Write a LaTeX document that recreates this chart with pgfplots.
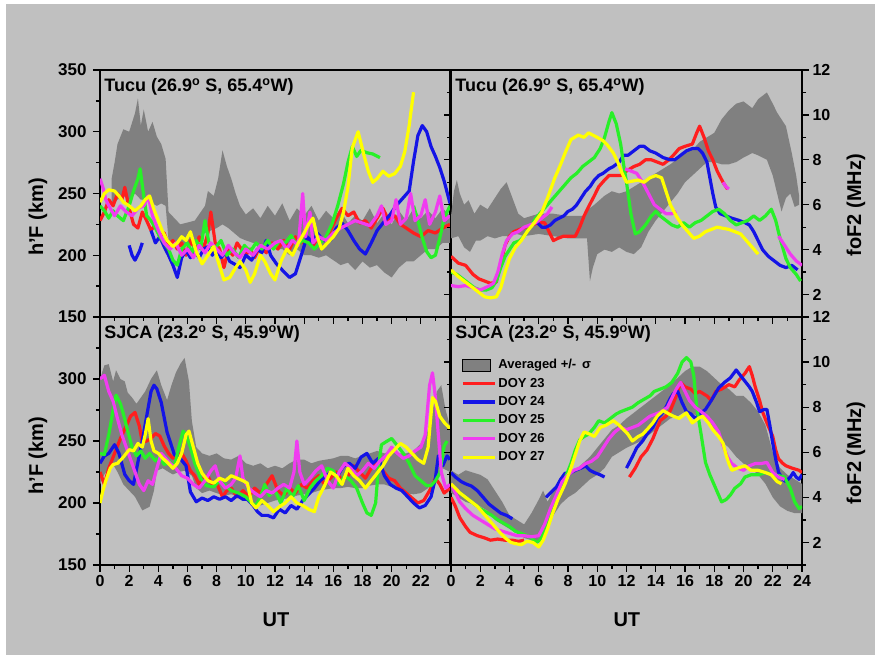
\documentclass[border=0pt]{standalone}
\usepackage{fontspec}
\setmainfont{Liberation Sans}
\usepackage{pgfplots}
\pgfplotsset{compat=1.18}

\definecolor{bg}{RGB}{192,192,192}
\definecolor{band}{RGB}{128,128,128}
\definecolor{c23}{RGB}{255,30,30}
\definecolor{c24}{RGB}{20,20,230}
\definecolor{c25}{RGB}{40,240,40}
\definecolor{c26}{RGB}{240,60,240}
\definecolor{c27}{RGB}{255,255,0}

\pgfplotsset{
  panel/.style={
    scale only axis, xmin=0, xmax=24, enlargelimits=false,
    axis line style={line width=1.6pt},
    tick align=outside, major tick length=7pt, minor tick length=4pt,
    every tick/.style={black, line width=1.3pt},
    xtick pos=left,
    tick label style={font=\fontsize{16}{16}\selectfont\bfseries},
    /pgf/number format/assume math mode=true,
    label style={font=\fontsize{20}{20}\selectfont\bfseries},
    unbounded coords=jump,
  },
  hfpanel/.style={panel, width=350pt, ymin=150, ymax=350,
    xtick={0,2,...,22}, minor xtick={1,3,...,23}, ytick pos=left,
    yticklabel style={font=\fontsize{17}{17}\selectfont\bfseries, xshift=-3pt}},
  fopanel/.style={panel, width=351pt, ymin=1, ymax=12,
    xtick={0,2,...,24}, minor xtick={1,3,...,23},
    ytick={2,4,...,12}, minor ytick={1,3,...,11},
    ytick pos=both, yticklabel pos=right},
  cur/.style={line width=3.2pt, line join=round, forget plot},
  bandst/.style={fill=band, draw=none, forget plot},
  lgline/.style={legend image code/.code={\draw[#1, line width=3.2pt] (0pt,0pt) -- (32pt,0pt);}},
  lgbox/.style={legend image code/.code={\draw[fill=band,draw=black,line width=1.2pt] (0pt,-6pt) rectangle (28pt,6pt);}},
}
\newcommand{\ttl}[1]{\node[anchor=north west, inner sep=0pt, font=\fontsize{18}{18}\selectfont\bfseries] at (rel axis cs:0.012,0.965) {#1};}

\begin{document}
\begin{tikzpicture}
\fill[white] (0pt,0pt) rectangle (875pt,655pt);
\fill[bg] (6pt,0pt) rectangle (875pt,651pt);

% ---------------- Top left: h'F Tucu
\begin{axis}[hfpanel, height=247pt, at={(100pt,338pt)}, anchor=south west,
  ytick={150,200,...,350}, minor ytick={175,225,...,325}, xticklabels={},
  ylabel={h'F (km)}, ylabel style={at={(axis description cs:-0.177,0.405)}, anchor=center}]
\addplot[bandst] coordinates {(0.8,262)(1.0,275)(1.2,290)(1.6,302)(2.0,300)(2.4,315)(2.6,327)(2.8,305)(3.0,318)(3.3,300)(3.6,308)(3.9,296)(4.2,290)(4.5,278)(4.7,235)(5.5,225)(6.5,228)(7.2,240)(7.4,252)(7.8,248)(8.1,262)(8.4,285)(8.7,272)(9.0,262)(9.3,250)(9.6,240)(10.0,233)(10.5,238)(11.0,230)(11.5,240)(12.0,232)(12.5,242)(13.0,228)(13.5,238)(14.0,232)(14.5,240)(15.0,228)(15.5,236)(16.0,230)(16.5,236)(17.0,226)(17.5,232)(18.0,228)(18.5,238)(19.0,226)(19.5,234)(20.0,225)(20.5,236)(21.0,228)(21.5,238)(22.0,230)(22.5,236)(23.0,230)(23.5,238)(24.0,232)
(24.0,210)(23.5,210)(23.0,205)(22.5,205)(22.0,200)(21.5,195)(21.0,195)(20.5,190)(20.0,182)(19.5,186)(19.0,192)(18.5,190)(18.0,195)(17.5,188)(17.0,194)(16.5,192)(16.0,196)(15.5,200)(15.0,198)(14.5,200)(14.0,200)(13.5,205)(13.0,200)(12.5,205)(12.0,205)(11.5,210)(11.0,208)(10.5,210)(10.0,212)(9.6,214)(9.2,218)(8.8,222)(8.4,225)(8.0,222)(7.6,220)(7.2,218)(6.5,210)(5.5,208)(4.7,212)(4.5,240)(4.2,242)(3.9,240)(3.6,242)(3.3,245)(2.8,245)(2.4,250)(2.0,245)(1.6,248)(1.2,245)(0.8,240)};
\addplot[cur, c23] coordinates {(0,228)(0.3,235)(0.6,245)(0.9,240)(1.2,250)(1.5,245)(1.7,255)(2.0,238)(2.3,225)(2.6,222)(2.9,235)(3.2,228)(3.5,220)(3.8,225)(4.1,215)(4.4,218)(4.7,208)(5.0,212)(5.3,205)(5.6,210)(5.9,200)(6.2,212)(6.5,205)(6.8,215)(7.1,205)(7.4,218)(7.6,235)(7.9,210)(8.2,205)(8.5,190)(8.8,205)(9.1,200)(9.4,210)(9.7,205)(10.0,200)(10.3,205)(10.6,198)(11.0,208)(11.4,202)(11.8,210)(12.2,205)(12.6,212)(13.0,205)(13.4,215)(13.8,210)(14.2,212)(14.6,208)(15.0,215)(15.4,212)(15.8,220)(16.2,230)(16.6,238)(17.0,232)(17.4,235)(17.8,226)(18.2,228)(18.6,222)(19.0,230)(19.4,238)(19.8,228)(20.2,232)(20.6,225)(21.0,222)(21.5,218)(22.0,215)(22.5,220)(23.0,218)(23.5,222)(24.0,225)};
\addplot[cur, c24] coordinates {(2.0,208)(2.2,200)(2.4,196)(2.7,203)(2.9,210)(3.2,nan)(3.5,220)(3.8,210)(4.1,215)(4.4,207)(4.7,200)(5.0,192)(5.3,182)(5.6,198)(5.9,204)(6.2,198)(6.5,203)(6.8,198)(7.1,205)(7.4,207)(7.7,200)(8.0,205)(8.3,198)(8.6,202)(8.9,195)(9.2,193)(9.6,190)(10.0,200)(10.4,196)(10.8,205)(11.1,202)(11.4,212)(11.7,200)(12.1,193)(12.5,188)(13.0,182)(13.4,185)(13.8,200)(14.2,215)(14.6,210)(14.9,218)(15.3,212)(15.8,212)(16.2,222)(16.6,226)(17.0,220)(17.4,212)(17.8,205)(18.2,201)(18.6,210)(19.0,220)(19.4,226)(19.9,233)(20.3,240)(20.6,244)(20.9,248)(21.2,252)(21.5,276)(21.8,297)(22.1,305)(22.4,300)(22.7,288)(23.0,280)(23.3,271)(23.6,260)(24.0,242)};
\addplot[cur, c25] coordinates {(0,240)(0.3,236)(0.6,230)(0.9,236)(1.2,232)(1.6,228)(2.0,240)(2.3,252)(2.6,262)(2.75,270)(3.0,248)(3.2,232)(3.5,228)(3.8,222)(4.1,215)(4.4,210)(4.7,205)(5.0,196)(5.3,192)(5.6,205)(6.0,210)(6.3,202)(6.6,212)(6.9,205)(7.2,228)(7.5,208)(7.9,206)(8.3,212)(8.7,200)(9.1,205)(9.5,198)(9.9,208)(10.3,203)(10.7,210)(11.1,205)(11.5,212)(11.9,205)(12.3,212)(12.7,210)(13.1,216)(13.5,208)(13.9,212)(14.3,210)(14.7,205)(15.1,210)(15.5,215)(15.9,225)(16.3,240)(16.7,258)(17.0,275)(17.3,288)(17.6,280)(17.9,285)(18.3,283)(18.7,282)(19.2,279)(19.4,nan)(21.4,nan)(21.5,240)(21.8,228)(22.1,214)(22.4,203)(22.7,198)(23.0,200)(23.3,214)(23.6,230)(24.0,240)};
\addplot[cur, c26] coordinates {(0,262)(0.2,255)(0.4,245)(0.7,238)(1.0,232)(1.4,240)(1.8,235)(2.2,232)(2.6,238)(3.0,240)(3.3,248)(3.6,232)(4.0,220)(4.4,210)(4.8,205)(5.2,210)(5.6,200)(6.0,205)(6.4,198)(6.8,208)(7.2,202)(7.6,210)(8.0,205)(8.4,200)(8.8,208)(9.2,202)(9.6,198)(10.0,205)(10.5,200)(11.0,208)(11.5,205)(12.0,210)(12.4,212)(12.8,205)(13.2,212)(13.6,208)(13.9,250)(14.1,215)(14.4,235)(14.6,210)(15.0,215)(15.5,212)(16.0,218)(16.5,222)(17.0,225)(17.5,228)(18.0,226)(18.5,224)(19.0,232)(19.3,240)(19.6,225)(20.0,228)(20.3,245)(20.6,225)(21.0,230)(21.3,250)(21.6,228)(22.0,232)(22.3,245)(22.6,225)(23.0,235)(23.3,248)(23.6,228)(24.0,232)};
\addplot[cur, c27] coordinates {(0,243)(0.3,250)(0.6,253)(1.0,252)(1.3,248)(1.6,243)(2.0,240)(2.4,236)(2.8,240)(3.1,245)(3.4,248)(3.7,237)(4.0,228)(4.3,219)(4.6,212)(5.0,207)(5.3,210)(5.6,215)(5.9,212)(6.2,219)(6.6,203)(7.0,193)(7.4,200)(7.8,207)(8.1,195)(8.5,180)(8.9,182)(9.3,190)(9.6,195)(10.0,188)(10.3,178)(10.6,185)(11.0,200)(11.3,195)(11.7,185)(12.0,180)(12.4,195)(12.8,205)(13.2,200)(13.6,210)(14.0,218)(14.3,225)(14.6,230)(14.9,215)(15.2,205)(15.6,210)(16.0,215)(16.4,222)(16.7,235)(17.0,255)(17.3,287)(17.7,300)(18.1,281)(18.4,268)(18.7,259)(19.0,262)(19.4,268)(19.8,264)(20.2,266)(20.6,272)(20.9,284)(21.2,305)(21.5,332)};
\ttl{Tucu (26.9\textsuperscript{o} S, 65.4\textsuperscript{o}W)}
\end{axis}

% ---------------- Top right: foF2 Tucu
\begin{axis}[fopanel, height=247pt, at={(451pt,338pt)}, anchor=south west, xticklabels={},
  ylabel={foF2 (MHz)}, ylabel style={at={(axis description cs:1.154,0.453)}, anchor=center}]
\addplot[bandst] coordinates {(0,5.5)(0.2,6.6)(0.4,7.1)(0.6,6.5)(0.9,6.0)(1.2,6.2)(1.6,5.6)(2.0,6.0)(2.5,5.8)(3.0,6.3)(3.4,6.7)(3.8,7.0)(4.2,6.3)(4.6,5.6)(5.0,5.4)(5.5,5.5)(6.0,5.6)(7.0,5.6)(8.0,5.5)(9.0,5.5)(9.4,5.8)(9.8,6.0)(10.5,6.4)(11.0,6.6)(11.5,6.5)(12.0,6.6)(13.0,7.0)(14.0,7.4)(15.0,7.8)(16.0,8.3)(16.6,8.5)(17.0,8.8)(17.5,9.0)(18.0,9.2)(18.5,9.8)(19.0,10.2)(19.5,10.5)(20.0,10.6)(20.6,10.3)(21.0,10.7)(21.6,11.0)(22.0,10.5)(22.3,10.1)(22.6,9.8)(22.9,9.5)(23.3,8.3)(23.6,7.3)(23.8,6.4)
(23.8,6.0)(23.5,5.9)(23.2,6.5)(22.9,6.3)(22.6,5.7)(22.3,6.5)(22.0,7.3)(21.6,8.0)(21.0,8.2)(20.6,8.3)(20.0,8.1)(19.5,7.9)(19.0,7.8)(18.5,7.8)(18.0,7.9)(17.5,7.9)(17.0,7.6)(16.5,7.3)(16.0,7.0)(15.5,6.5)(15.0,6.1)(14.5,5.7)(14.0,5.3)(13.5,4.8)(13.0,4.1)(12.5,3.8)(12.0,3.9)(11.5,4.1)(11.0,3.9)(10.5,4.0)(10.0,3.8)(9.7,3.2)(9.5,2.6)(9.3,4.5)(9.0,4.5)(8.0,4.5)(7.0,4.6)(6.0,4.7)(5.0,4.6)(4.5,4.7)(4.0,4.6)(3.5,4.6)(3.0,4.5)(2.5,4.6)(2.0,4.4)(1.7,4.4)(1.3,3.9)(0.9,4.1)(0.5,4.6)(0,4.5)};
\addplot[cur, c23] coordinates {(0,3.7)(0.5,3.4)(1.0,3.3)(1.5,2.9)(1.9,2.7)(2.3,2.6)(2.7,2.5)(3.1,2.55)(3.4,3.4)(3.7,4.2)(4.0,4.6)(4.3,4.8)(4.7,4.9)(5.1,5.0)(5.5,5.1)(6.0,5.2)(6.4,5.2)(6.7,4.8)(7.0,4.4)(7.3,4.5)(7.7,4.6)(8.1,4.6)(8.5,4.6)(8.8,5.0)(9.1,5.5)(9.4,5.9)(9.8,6.4)(10.1,6.8)(10.5,7.1)(10.8,7.3)(11.2,7.3)(11.6,7.3)(12.0,7.5)(12.5,7.7)(12.9,7.8)(13.3,8.0)(13.7,8.0)(14.1,7.9)(14.5,7.8)(14.9,8.0)(15.2,8.2)(15.6,8.5)(16.0,8.6)(16.5,8.7)(16.8,9.2)(17.0,9.5)(17.3,9.0)(17.6,8.4)(17.9,8.0)(18.2,7.5)(18.6,7.0)(18.9,6.7)};
\addplot[cur, c24] coordinates {(5.6,5.3)(5.9,5.2)(6.2,5.0)(6.5,5.0)(6.8,5.1)(7.1,5.3)(7.4,5.4)(7.7,5.5)(8.0,5.7)(8.3,5.8)(8.6,6.0)(8.9,6.3)(9.2,6.6)(9.5,6.8)(9.8,7.1)(10.1,7.3)(10.4,7.4)(10.8,7.6)(11.1,7.7)(11.5,7.9)(11.8,8.2)(12.1,8.2)(12.5,8.4)(12.9,8.6)(13.2,8.6)(13.6,8.4)(14.0,8.3)(14.5,8.1)(15.0,8.0)(15.3,8.0)(15.7,8.2)(16.1,8.4)(16.5,8.5)(16.9,8.5)(17.2,8.3)(17.5,7.9)(17.7,7.2)(17.9,6.5)(18.1,5.9)(18.4,5.6)(18.8,5.5)(19.2,5.4)(19.7,5.3)(20.1,5.2)(20.4,5.1)(20.7,4.8)(21.0,4.4)(21.3,4.0)(21.7,3.7)(22.1,3.5)(22.5,3.3)(22.9,3.2)(23.3,3.3)(23.7,3.1)};
\addplot[cur, c25] coordinates {(0,3.0)(0.4,2.9)(0.8,2.7)(1.2,2.5)(1.6,2.3)(2.0,2.2)(2.4,2.2)(2.8,2.3)(3.1,2.6)(3.4,3.2)(3.7,3.7)(4.0,4.0)(4.3,4.3)(4.7,4.4)(5.0,4.6)(5.4,5.0)(5.8,5.4)(6.2,5.7)(6.6,6.0)(7.0,6.3)(7.4,6.6)(7.8,6.9)(8.2,7.2)(8.6,7.4)(9.0,7.7)(9.4,7.9)(9.8,8.1)(10.2,8.5)(10.5,9.0)(10.8,9.7)(11.0,10.1)(11.3,9.6)(11.6,8.7)(11.8,7.8)(12.0,7.0)(12.3,5.6)(12.6,4.7)(12.9,4.8)(13.3,5.1)(13.7,5.5)(14.0,5.7)(14.3,5.5)(14.7,5.3)(15.1,5.1)(15.5,5.0)(15.9,5.2)(16.3,5.0)(16.7,5.2)(17.1,5.3)(17.5,5.5)(17.9,5.7)(18.3,5.8)(18.7,5.6)(19.1,5.3)(19.5,5.1)(19.9,5.2)(20.3,5.3)(20.7,5.5)(21.1,5.3)(21.5,5.5)(21.9,5.8)(22.2,5.3)(22.5,4.5)(22.9,3.6)(23.2,3.2)(23.6,2.9)(23.9,2.6)};
\addplot[cur, c26] coordinates {(0,2.4)(0.5,2.35)(1.0,2.4)(1.5,2.3)(2.0,2.2)(2.5,2.35)(2.9,2.5)(3.2,3.0)(3.5,3.8)(3.8,4.4)(4.2,4.7)(4.6,4.8)(5.0,5.0)(5.4,5.1)(5.8,5.2)(6.2,5.4)(6.6,5.6)(6.9,5.9)(7.0,nan)(11.8,nan)(11.9,7.6)(12.3,7.5)(12.7,7.4)(13.1,7.0)(13.5,6.5)(13.9,6.0)(14.3,5.8)(14.7,5.6)(15.1,5.6)(15.4,5.7)(15.5,nan)(18.5,nan)(18.6,7.0)(18.8,6.8)(19.0,6.7)(19.1,nan)(22.3,nan)(22.4,4.6)(22.8,4.2)(23.2,3.8)(23.6,3.5)(24.0,3.3)};
\addplot[cur, c27] coordinates {(0,3.1)(0.5,2.8)(1.0,2.55)(1.5,2.3)(1.9,2.1)(2.3,1.9)(2.7,1.85)(3.1,1.9)(3.4,2.3)(3.7,3.0)(4.0,3.6)(4.4,4.1)(4.8,4.4)(5.2,4.8)(5.7,5.2)(6.2,5.65)(6.6,6.3)(7.1,7.2)(7.5,7.8)(7.8,8.3)(8.2,8.9)(8.7,9.1)(9.1,9.0)(9.4,9.2)(10.0,9.0)(10.4,8.85)(10.7,8.65)(11.1,8.3)(11.4,7.9)(11.7,7.4)(12.0,7.0)(12.4,7.05)(12.8,7.1)(13.2,7.0)(13.6,7.2)(14.0,7.3)(14.4,7.2)(14.7,6.6)(15.0,6.0)(15.4,5.5)(15.8,5.1)(16.2,4.8)(16.6,4.5)(17.0,4.6)(17.4,4.8)(17.8,4.9)(18.2,5.0)(18.6,4.95)(19.0,4.9)(19.4,4.8)(19.8,4.7)(20.2,4.4)(20.6,4.1)(21.0,3.8)};
\ttl{Tucu (26.9\textsuperscript{o} S, 65.4\textsuperscript{o}W)}
\end{axis}

% ---------------- Bottom left: h'F SJCA
\begin{axis}[hfpanel, height=248pt, at={(100pt,90pt)}, anchor=south west,
  ytick={150,200,250,300}, minor ytick={175,225,275,325},
  xlabel={UT}, xlabel style={at={(axis description cs:0.503,-0.222)}, anchor=center},
  ylabel={h'F (km)}, ylabel style={at={(axis description cs:-0.177,0.44)}, anchor=center}]
\addplot[bandst] coordinates {(0,300)(0.3,311)(0.6,312)(0.9,298)(1.1,307)(1.4,300)(1.7,298)(1.9,289)(2.2,285)(2.5,280)(2.8,285)(3.1,290)(3.5,300)(3.9,307)(4.2,295)(4.6,283)(4.9,295)(5.2,305)(5.5,312)(5.8,317)(6.1,298)(6.3,266)(6.6,245)(7.0,240)(7.5,238)(8.0,240)(8.5,236)(9.0,235)(9.5,238)(10.0,232)(10.5,230)(11.0,232)(11.5,228)(12.0,230)(12.5,228)(13.0,232)(13.5,235)(14.0,235)(14.5,232)(15.0,234)(15.5,235)(16.0,236)(16.5,238)(17.0,238)(17.5,236)(18.0,238)(18.5,240)(19.0,242)(19.5,240)(20.0,242)(20.5,240)(21.0,240)(21.5,242)(22.0,248)(22.4,255)(22.8,275)(23.1,290)(23.4,295)(23.7,275)(24.0,262)
(24.0,225)(23.5,228)(23.0,222)(22.5,212)(22.0,208)(21.5,207)(21.0,208)(20.5,210)(20.0,213)(19.5,215)(19.0,215)(18.5,214)(18.0,212)(17.5,212)(17.0,213)(16.5,212)(16.0,212)(15.5,211)(15.0,210)(14.5,208)(14.0,207)(13.5,206)(13.0,204)(12.5,203)(12.0,202)(11.5,200)(11.0,198)(10.5,200)(10.0,203)(9.5,205)(9.0,207)(8.5,206)(8.0,208)(7.5,210)(7.0,208)(6.6,212)(6.3,222)(5.8,226)(5.4,225)(5.0,223)(4.7,225)(4.3,228)(3.9,226)(3.7,210)(3.4,197)(2.9,194)(2.4,205)(2.0,210)(1.6,215)(1.2,225)(0.9,231)(0.6,228)(0.3,223)(0,215)};
\addplot[cur, c23] coordinates {(0,225)(0.3,215)(0.6,228)(1.0,240)(1.4,252)(1.8,262)(2.1,270)(2.4,273)(2.7,262)(2.9,249)(3.2,250)(3.5,252)(3.8,256)(4.1,254)(4.4,246)(4.7,240)(5.0,236)(5.3,238)(5.6,240)(5.9,234)(6.2,226)(6.5,222)(6.8,215)(7.1,220)(7.4,222)(7.7,214)(8.0,216)(8.4,205)(8.7,210)(9.0,212)(9.4,205)(9.8,210)(10.2,205)(10.6,212)(11.0,208)(11.4,215)(11.8,222)(12.2,210)(12.6,206)(13.0,212)(13.4,208)(13.8,215)(14.2,212)(14.6,218)(15.0,222)(15.4,215)(15.8,220)(16.2,225)(16.6,218)(17.0,222)(17.4,230)(17.8,225)(18.2,220)(18.6,228)(19.0,232)(19.4,226)(19.8,220)(20.2,218)(20.6,212)(21.0,208)(21.4,204)(21.8,200)(22.2,202)(22.6,210)(23.0,220)(23.3,215)(23.6,208)(24.0,212)};
\addplot[cur, c24] coordinates {(0,232)(0.3,238)(0.6,240)(1.0,247)(1.3,240)(1.7,223)(2.0,218)(2.3,215)(2.6,233)(2.9,250)(3.2,270)(3.5,290)(3.7,295)(3.9,292)(4.2,281)(4.6,257)(5.1,239)(5.5,236)(5.9,230)(6.2,209)(6.6,201)(7.0,204)(7.4,202)(7.8,205)(8.2,203)(8.6,205)(9.0,202)(9.4,206)(9.8,203)(10.1,203)(10.5,198)(10.8,193)(11.1,190)(11.5,190)(11.9,188)(12.3,195)(12.7,192)(13.1,198)(13.5,195)(13.9,202)(14.3,207)(14.7,212)(15.1,218)(15.5,222)(15.9,225)(16.3,222)(16.7,230)(17.1,232)(17.5,228)(17.9,237)(18.3,240)(18.7,232)(19.1,236)(19.5,222)(19.9,215)(20.3,212)(20.7,210)(21.1,205)(21.5,200)(21.9,196)(22.3,198)(22.7,205)(23.0,220)(23.2,238)(23.5,230)(23.8,238)(24.0,235)};
\addplot[cur, c25] coordinates {(0,240)(0.3,239)(0.6,255)(0.9,275)(1.1,287)(1.4,280)(1.6,272)(1.9,258)(2.2,245)(2.5,238)(2.8,242)(3.1,236)(3.4,240)(3.8,234)(4.1,237)(4.4,231)(4.8,233)(5.1,229)(5.4,245)(5.7,258)(5.9,255)(6.2,245)(6.5,232)(6.9,220)(7.3,214)(7.8,213)(8.2,218)(8.6,214)(9.0,210)(9.5,208)(10.0,205)(10.4,200)(10.7,198)(11.0,205)(11.3,215)(11.6,206)(12.0,210)(12.4,200)(12.8,212)(13.2,205)(13.6,214)(14.0,202)(14.4,212)(14.8,218)(15.2,222)(15.6,228)(16.0,226)(16.4,215)(16.8,222)(17.2,218)(17.6,212)(18.0,200)(18.3,192)(18.6,190)(18.9,200)(19.1,230)(19.3,247)(19.7,250)(20.0,252)(20.4,246)(20.8,240)(21.2,232)(21.6,222)(22.0,218)(22.4,214)(22.7,214)(23.0,218)(23.3,224)(23.6,246)(23.8,250)};
\addplot[cur, c26] coordinates {(0,300)(0.3,303)(0.6,290)(0.9,282)(1.2,268)(1.5,255)(1.8,245)(2.1,235)(2.4,225)(2.7,215)(3.0,210)(3.3,218)(3.6,215)(3.9,228)(4.2,240)(4.5,236)(4.8,232)(5.2,228)(5.6,222)(6.0,220)(6.4,215)(6.8,212)(7.2,218)(7.6,226)(7.9,230)(8.2,218)(8.6,212)(9.0,215)(9.3,220)(9.6,238)(9.8,220)(10.2,212)(10.6,208)(11.0,205)(11.4,210)(11.8,208)(12.2,212)(12.6,215)(13.0,212)(13.3,225)(13.5,250)(13.7,225)(14.0,215)(14.4,220)(14.8,226)(15.2,230)(15.6,218)(16.0,212)(16.4,225)(16.8,232)(17.2,228)(17.6,222)(18.0,226)(18.4,232)(18.8,228)(19.2,234)(19.6,238)(20.0,245)(20.4,240)(20.8,236)(21.2,238)(21.6,242)(22.0,245)(22.3,255)(22.6,295)(22.8,305)(23.0,285)(23.2,255)(23.4,225)(23.7,212)(24.0,215)};
\addplot[cur, c27] coordinates {(0,200)(0.2,210)(0.4,218)(0.7,228)(0.9,231)(1.2,232)(1.6,237)(2.0,243)(2.3,242)(2.6,248)(2.9,245)(3.1,255)(3.3,268)(3.5,250)(3.7,242)(4.0,240)(4.3,236)(4.6,233)(5.0,228)(5.3,232)(5.6,240)(5.9,255)(6.1,258)(6.4,245)(6.7,232)(7.0,224)(7.4,218)(7.8,216)(8.2,220)(8.6,218)(9.0,222)(9.4,220)(9.8,218)(10.1,216)(10.4,200)(10.7,196)(11.1,202)(11.5,198)(11.9,193)(12.3,197)(12.7,200)(13.1,205)(13.5,200)(13.9,198)(14.3,195)(14.7,193)(15.0,205)(15.4,214)(15.8,225)(16.2,222)(16.6,215)(17.0,228)(17.4,222)(17.8,218)(18.2,212)(18.6,218)(19.0,224)(19.4,230)(19.8,238)(20.2,243)(20.6,248)(21.0,245)(21.4,240)(21.8,235)(22.2,232)(22.5,245)(22.8,285)(23.0,282)(23.3,270)(23.6,265)(24.0,260)};
\ttl{SJCA (23.2\textsuperscript{o} S, 45.9\textsuperscript{o}W)}
\end{axis}

% ---------------- Bottom right: foF2 SJCA
\begin{axis}[fopanel, height=248pt, at={(451pt,90pt)}, anchor=south west,
  xlabel={UT}, xlabel style={at={(axis description cs:0.501,-0.222)}, anchor=center},
  ylabel={foF2 (MHz)}, ylabel style={at={(axis description cs:1.154,0.452)}, anchor=center},
  legend style={at={(0.02,0.847)}, anchor=north west, draw=none, fill=none,
    font=\fontsize{13}{13}\selectfont\bfseries, row sep=2.4pt,
    nodes={inner sep=2pt, text height=9.5pt, text depth=2.5pt}},
  legend cell align=left]
\addlegendimage{lgbox}
\addlegendentry{Averaged +/-\, σ}
\addlegendimage{lgline=c23}
\addlegendentry{DOY 23}
\addlegendimage{lgline=c24}
\addlegendentry{DOY 24}
\addlegendimage{lgline=c25}
\addlegendentry{DOY 25}
\addlegendimage{lgline=c26}
\addlegendentry{DOY 26}
\addlegendimage{lgline=c27}
\addlegendentry{DOY 27}
\addplot[bandst] coordinates {(0,5.2)(0.5,5.0)(1,5.2)(1.5,5.1)(2,5.0)(2.5,4.8)(3,4.3)(3.5,3.8)(4,3.2)(4.5,3.0)(5,2.8)(5.5,3.3)(6,3.9)(6.3,4.3)(6.6,3.8)(7,4.3)(7.5,4.8)(8,5.0)(8.5,5.2)(9,5.5)(9.5,5.8)(10,6.2)(10.5,6.6)(11,7.0)(11.5,7.2)(12,7.5)(13,8.0)(14,8.5)(15,9.0)(15.5,9.3)(16,9.6)(16.5,9.8)(17,9.8)(17.5,9.6)(18,9.3)(18.5,9.0)(19,8.8)(19.5,8.5)(20,8.5)(20.5,8.2)(21,7.8)(21.5,7.2)(22,6.0)(22.5,5.3)(23,5.0)(23.5,4.8)(24,4.6)
(24,3.3)(23.5,3.3)(23,3.4)(22.5,3.6)(22,4.0)(21.5,4.6)(21,5.0)(20.5,5.3)(20,5.5)(19.5,5.8)(19,6.2)(18.5,6.5)(18,7.0)(17.5,7.4)(17,7.6)(16.5,7.7)(16,7.8)(15.5,7.6)(15,7.5)(14,7.0)(13,6.5)(12,6.2)(11.5,6.0)(11,5.8)(10.5,5.3)(10,5.0)(9.5,4.8)(9,4.5)(8.5,4.2)(8,4.0)(7.5,3.7)(7,3.2)(6.6,2.5)(6.3,2.2)(6,2.0)(5.5,2.1)(5,2.2)(4.5,2.4)(4,2.6)(3.5,2.8)(3,3.0)(2.5,3.4)(2,3.6)(1.5,3.7)(1,3.8)(0.5,4.0)(0,4.2)};
\addplot[cur, c23] coordinates {(0,4.0)(0.3,3.6)(0.6,3.1)(1.0,2.7)(1.3,2.45)(1.8,2.3)(2.3,2.2)(2.7,2.1)(3.2,2.15)(3.7,2.1)(4.2,2.1)(4.6,2.05)(5.0,2.1)(5.1,nan)(12.0,nan)(12.2,4.9)(12.6,5.3)(13.0,5.8)(13.4,6.1)(13.8,6.6)(14.3,7.4)(14.7,7.6)(15.0,7.85)(15.4,8.5)(15.7,9.1)(16.0,8.9)(16.4,8.8)(16.7,8.6)(17.0,8.7)(17.5,8.5)(17.8,8.3)(18.1,8.7)(18.5,8.8)(19.0,9.0)(19.4,8.9)(19.7,9.2)(20.1,9.5)(20.4,9.8)(20.6,9.4)(20.8,8.9)(21.1,8.3)(21.3,7.8)(21.6,7.3)(22.0,6.7)(22.2,6.1)(22.4,5.7)(22.7,5.5)(22.9,5.4)(23.3,5.3)(23.8,5.2)(24.0,5.1)};
\addplot[cur, c24] coordinates {(0,5.1)(0.3,4.9)(0.7,4.7)(1.0,4.6)(1.4,4.5)(1.8,4.3)(2.2,4.0)(2.6,3.7)(3.0,3.5)(3.4,3.3)(3.8,3.2)(4.2,3.05)(4.3,nan)(6.4,nan)(6.5,4.0)(6.8,4.2)(7.2,4.45)(7.5,4.8)(7.8,5.07)(8.2,5.1)(8.5,5.2)(8.9,5.3)(9.2,5.4)(9.5,5.2)(9.8,5.1)(10.2,5.0)(10.5,4.9)(10.6,nan)(11.8,nan)(12.0,5.3)(12.4,5.8)(12.7,6.2)(13.1,6.5)(13.4,6.8)(13.8,7.1)(14.1,7.5)(14.4,7.7)(14.7,8.0)(15.0,8.4)(15.2,8.6)(15.5,8.7)(15.8,8.2)(16.1,7.8)(16.4,7.7)(16.7,7.5)(17.0,7.7)(17.4,7.9)(17.8,8.3)(18.3,8.85)(18.7,9.1)(19.1,9.3)(19.5,9.65)(19.8,9.4)(20.1,9.15)(20.4,8.9)(20.6,8.7)(20.9,8.2)(21.1,7.8)(21.4,7.9)(21.6,7.9)(21.8,7.2)(22.0,6.4)(22.2,5.7)(22.4,5.1)(22.7,4.8)(22.9,4.7)(23.2,4.9)(23.4,5.1)(23.6,4.9)(23.8,4.8)(24.0,5.0)};
\addplot[cur, c25] coordinates {(0,4.5)(0.4,4.3)(0.8,4.1)(1.2,3.9)(1.6,3.7)(2.0,3.5)(2.4,3.35)(2.8,3.2)(3.2,3.0)(3.6,2.85)(4.0,2.7)(4.4,2.5)(4.8,2.4)(5.2,2.3)(5.5,2.2)(5.8,2.0)(6.1,2.1)(6.4,2.5)(6.7,3.0)(7.0,3.5)(7.3,4.0)(7.6,4.5)(7.9,5.0)(8.2,5.5)(8.5,6.1)(8.8,6.55)(9.1,6.7)(9.4,6.8)(9.8,7.1)(10.1,7.4)(10.5,7.3)(10.9,7.5)(11.3,7.7)(11.6,7.8)(12.0,7.9)(12.4,8.0)(12.8,8.2)(13.2,8.35)(13.6,8.5)(13.9,8.7)(14.3,8.8)(14.7,8.9)(15.1,9.1)(15.5,9.5)(15.8,10.0)(16.1,10.2)(16.4,10.0)(16.6,9.4)(16.8,8.0)(17.1,6.8)(17.4,5.55)(17.7,5.0)(18.1,4.4)(18.5,3.8)(18.8,3.9)(19.1,4.1)(19.4,4.4)(19.8,4.6)(20.1,4.9)(20.5,5.0)(21.0,5.0)(21.5,5.1)(22.1,5.0)(22.5,4.95)(22.8,4.9)(23.2,4.4)(23.5,3.8)(23.8,3.5)(24.0,3.6)};
\addplot[cur, c26] coordinates {(0,4.6)(0.3,4.2)(0.6,3.8)(1.0,3.5)(1.5,3.2)(2.0,3.0)(2.5,2.8)(3.0,2.6)(3.5,2.5)(4.0,2.4)(4.5,2.3)(5.0,2.3)(5.5,2.25)(6.0,2.3)(6.4,2.8)(6.8,3.5)(7.2,4.1)(7.6,4.7)(8.0,5.0)(8.4,5.2)(8.8,5.3)(9.2,5.5)(9.6,5.6)(10.0,5.8)(10.4,6.2)(10.8,6.6)(11.2,6.9)(11.6,7.1)(12.0,7.0)(12.4,7.1)(12.8,7.2)(13.2,7.4)(13.6,7.6)(14.0,7.7)(14.4,7.8)(14.8,8.0)(15.1,8.4)(15.4,8.8)(15.7,9.1)(16.0,8.7)(16.3,8.3)(16.7,8.0)(17.1,7.8)(17.5,7.6)(17.9,7.3)(18.3,6.9)(18.6,6.3)(18.9,5.8)(19.2,5.5)(19.6,5.3)(20.0,5.2)(20.4,5.4)(20.8,5.5)(21.2,5.5)(21.6,5.55)(22.0,5.1)(22.4,4.9)(22.8,4.8)};
\addplot[cur, c27] coordinates {(0,4.6)(0.3,4.4)(0.6,4.2)(1.0,4.0)(1.4,3.8)(1.8,3.6)(2.2,3.3)(2.6,3.0)(3.0,2.7)(3.4,2.4)(3.8,2.15)(4.1,2.0)(4.4,1.95)(4.8,1.9)(5.2,2.05)(5.6,2.0)(6.0,1.8)(6.3,2.1)(6.6,2.6)(6.9,3.2)(7.3,3.9)(7.8,4.6)(8.2,5.3)(8.5,5.9)(8.8,6.5)(9.1,6.9)(9.5,6.8)(9.8,6.7)(10.2,7.1)(10.6,7.2)(11.1,7.4)(11.5,7.2)(11.8,7.0)(12.1,6.8)(12.4,6.5)(12.8,6.7)(13.1,6.8)(13.4,7.0)(13.8,7.3)(14.1,7.6)(14.5,7.85)(14.9,7.7)(15.2,7.6)(15.6,7.5)(16.1,7.75)(16.5,7.3)(16.9,7.5)(17.2,7.6)(17.6,7.3)(17.9,7.0)(18.3,6.7)(18.6,6.4)(18.8,5.9)(19.0,5.5)(19.2,5.2)(19.6,5.3)(20.1,5.4)(20.5,5.2)(21.0,5.2)(21.5,5.1)(21.9,5.0)(22.3,4.7)(22.6,4.6)};
\ttl{SJCA (23.2\textsuperscript{o} S, 45.9\textsuperscript{o}W)}
\end{axis}
\end{tikzpicture}
\end{document}
